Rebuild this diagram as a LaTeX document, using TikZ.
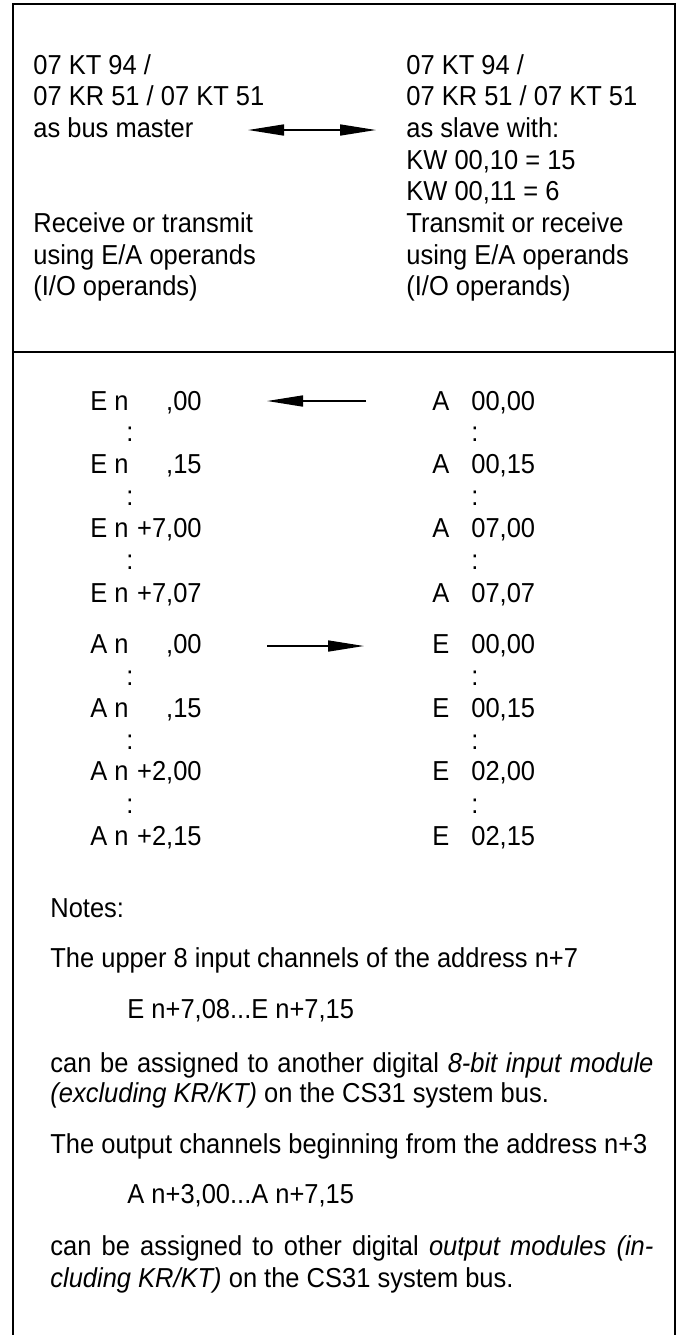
\documentclass[tikz,border=0pt]{standalone}
\usepackage{fontspec}
\setmainfont{Liberation Sans}[FakeStretch=0.93]
\usetikzlibrary{arrows.meta}
\newcommand\fs{\fontsize{13.7pt}{15.85pt}\selectfont}
\tikzset{
  >={Triangle[length=18pt,width=5.5pt]},
  txt/.style={anchor=base west,inner sep=0pt,font=\fs},
  rtxt/.style={txt,anchor=base east},
  dots/.style={txt,anchor=base},
  arr/.style={->,line width=0.8pt},
  rule/.style={line width=1pt},
}

\begin{document}
\begin{tikzpicture}[x=0.5pt,y=-0.5pt]
\useasboundingbox (0,0) rectangle (677,1335);
% frame and divider
\draw[rule] (13,1340) -- (13,4) -- (675,4) -- (675,1340);
\draw[rule] (13,352) -- (675,352);
% master / slave
\foreach \t [count=\i from 0] in {07 KT 94 /,07 KR 51 / 07 KT 51,as bus master}
  \node[txt] (m\i) at (33,74+31.7*\i) {\t};
\foreach \t [count=\i from 5] in {Receive or transmit,using E/A operands,(I/O operands)}
  \node[txt] (op\i) at (33,74+31.7*\i) {\t};
\foreach \t [count=\i from 0] in {07 KT 94 /,07 KR 51 / 07 KT 51,as slave with:,{KW 00,10 = 15},{KW 00,11 = 6},Transmit or receive,using E/A operands,(I/O operands)}
  \node[txt] (s\i) at (406,74+31.7*\i) {\t};
\coordinate (bl) at (248,130); \coordinate (br) at (376,130);
\draw[arr,<->] (bl) -- (br);
% operand list
\foreach \y/\a/\b/\c/\d [count=\i] in {
  410/E n/{,00}/A/{00,00},
  473/E n/{,15}/A/{00,15},
  537/E n/{+7,00}/A/{07,00},
  602/E n/{+7,07}/A/{07,07},
  653/A n/{,00}/E/{00,00},
  717/A n/{,15}/E/{00,15},
  780/A n/{+2,00}/E/{02,00},
  845/A n/{+2,15}/E/{02,15}}{
  \node[txt] (l\i) at (90,\y) {\a};
  \node[rtxt] (ls\i) at (202,\y) {\b};
  \node[txt] (r\i) at (432,\y) {\c};
  \node[txt] (rs\i) at (471,\y) {\d};
}
\foreach \y in {441,505,569,685,749,813}{
  \node[dots] (cl\y) at (130,\y) {:};
  \node[dots] (cr\y) at (475,\y) {:};
}
\coordinate (ia) at (366,401); \coordinate (ib) at (267,401);
\draw[arr] (ia) -- (ib);
\coordinate (oa) at (267,646); \coordinate (ob) at (364,646);
\draw[arr] (oa) -- (ob);
% notes
\node[txt] (notes) at (50,917) {Notes:};
\node[txt] (up) at (50,967) {The upper 8 input channels of the address n+7};
\node[txt] (ein) at (127,1018) {E n+7,08...E n+7,15};
\node[txt] (as1) at (50,1072) {\makebox[301.5pt][s]{can be assigned to another digital \textit{8-bit input module}}};
\node[txt] (as1b) at (50,1102) {\textit{(excluding KR/KT)} on the CS31 system bus.};
\node[txt] (out) at (50,1153) {The output channels beginning from the address n+3};
\node[txt] (ain) at (127,1203) {A n+3,00...A n+7,15};
\node[txt] (as2) at (50,1255) {\makebox[301.5pt][s]{can be assigned to other digital \textit{output modules (in-}}};
\node[txt] (as2b) at (50,1287) {\textit{cluding KR/KT)} on the CS31 system bus.};
\end{tikzpicture}
\end{document}
